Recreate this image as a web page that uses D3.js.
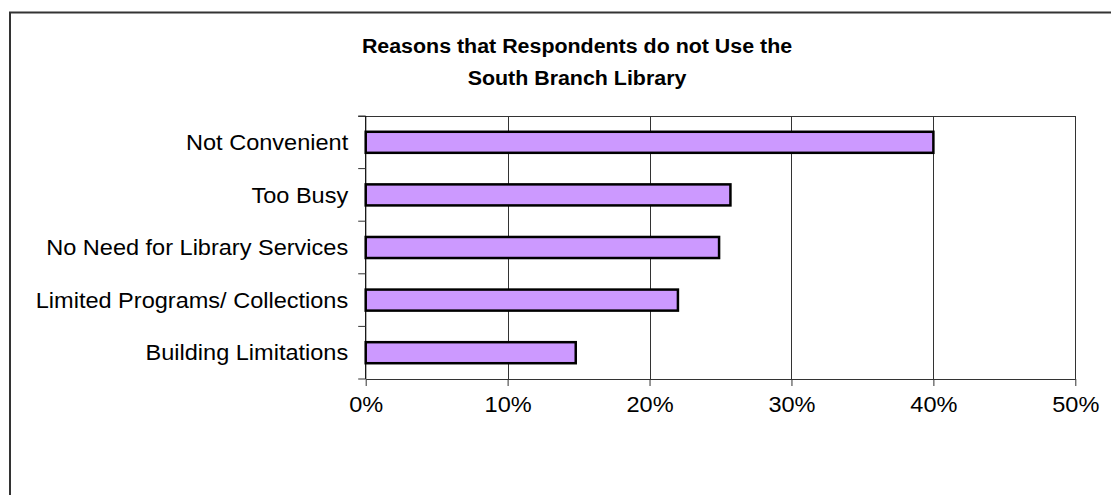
<!DOCTYPE html>
<html>
<head>
<meta charset="utf-8">
<script src="https://cdn.jsdelivr.net/npm/d3@7"></script>
<style>
  html, body { margin: 0; padding: 0; background: #ffffff; }
  svg { display: block; }
  text { font-family: "Liberation Sans", Arial, Helvetica, sans-serif; fill: #000; }
</style>
</head>
<body>
<svg id="chart" width="1111" height="495"></svg>
<script>
// Survey reasons, top to bottom, with the share of respondents giving each one
const categories = [
  "Not Convenient",
  "Too Busy",
  "No Need for Library Services",
  "Limited Programs/ Collections",
  "Building Limitations"
];
const shares = [0.400, 0.257, 0.249, 0.220, 0.148];
const tickValues = [0, 0.1, 0.2, 0.3, 0.4, 0.5];
const tickLabels = ["0%", "10%", "20%", "30%", "40%", "50%"];
const titleLines = [
  "Reasons that Respondents do not Use the",
  "South Branch Library"
];

const svg = d3.select("#chart");
const W = 1111, H = 495;
const plot = { left: 365.7, right: 1075.3, top: 116, bottom: 379 };
const stretch = 1.07; // glyphs are drawn slightly wide

svg.append("rect").attr("width", W).attr("height", H).attr("fill", "#fff");

// Chart frame (extends beyond the visible page at right and bottom)
svg.append("rect")
  .attr("x", 10).attr("y", 12.5)
  .attr("width", 1300).attr("height", 700)
  .attr("fill", "none").attr("stroke", "#333").attr("stroke-width", 2);

const x = d3.scaleLinear().domain([0, 0.5]).range([plot.left, plot.right]);
const y = d3.scaleBand().domain(categories)
  .range([plot.top, plot.bottom])
  .paddingInner(0.6).paddingOuter(0.3);

// Vertical gridlines
svg.append("g").selectAll("line")
  .data(tickValues.slice(1))
  .join("line")
  .attr("x1", d => Math.round(x(d)) + 0.5).attr("x2", d => Math.round(x(d)) + 0.5)
  .attr("y1", plot.top).attr("y2", plot.bottom)
  .attr("stroke", "#333").attr("stroke-width", 1);

// Plot area top border
svg.append("line")
  .attr("x1", plot.left - 7.5).attr("x2", Math.round(plot.right) + 1)
  .attr("y1", plot.top + 0.5).attr("y2", plot.top + 0.5)
  .attr("stroke", "#333").attr("stroke-width", 1);

// Bars
svg.append("g").selectAll("rect")
  .data(categories.map((c, i) => ({ c, v: shares[i] })))
  .join("rect")
  .attr("x", x(0))
  .attr("y", d => y(d.c))
  .attr("width", d => x(d.v) - x(0))
  .attr("height", y.bandwidth())
  .attr("fill", "#cc99ff")
  .attr("stroke", "#000").attr("stroke-width", 2.5);

// X axis
const xAxis = d3.axisBottom(x)
  .tickValues(tickValues)
  .tickFormat((d, i) => tickLabels[i])
  .tickSizeInner(7).tickSizeOuter(0).tickPadding(10);
const gx = svg.append("g")
  .attr("transform", `translate(0,${plot.bottom})`)
  .call(xAxis);
gx.select(".domain").attr("stroke", "#333");
gx.selectAll(".tick line").attr("stroke", "#333");
gx.selectAll(".tick text")
  .attr("font-size", 22)
  .attr("font-family", "Liberation Sans, Arial, sans-serif")
  .attr("fill", "#000")
  .attr("transform", `scale(${stretch},1)`);

// Y axis: ticks sit on category boundaries
const gy = svg.append("g").attr("transform", `translate(${plot.left},0)`);
gy.append("line")
  .attr("x1", 0).attr("x2", 0)
  .attr("y1", plot.top).attr("y2", plot.bottom)
  .attr("stroke", "#000").attr("stroke-width", 1.2);
const boundaries = d3.range(categories.length + 1)
  .map(i => plot.top + i * y.step());
gy.selectAll("line.tk")
  .data(boundaries)
  .join("line").attr("class", "tk")
  .attr("x1", -7.5).attr("x2", 0)
  .attr("y1", d => d).attr("y2", d => d)
  .attr("stroke", "#333");
gy.selectAll("text")
  .data(categories)
  .join("text")
  .attr("transform", d => `translate(-17.5,${y(d) + y.bandwidth() / 2}) scale(${stretch},1)`)
  .attr("dy", "0.35em")
  .attr("text-anchor", "end")
  .attr("font-size", 22)
  .text(d => d);

// Title
svg.append("g").selectAll("text")
  .data(titleLines)
  .join("text")
  .attr("transform", (d, i) => `translate(577,${53 + i * 32}) scale(${stretch},1)`)
  .attr("text-anchor", "middle")
  .attr("font-size", 20)
  .attr("font-weight", "bold")
  .text(d => d);
</script>
</body>
</html>
